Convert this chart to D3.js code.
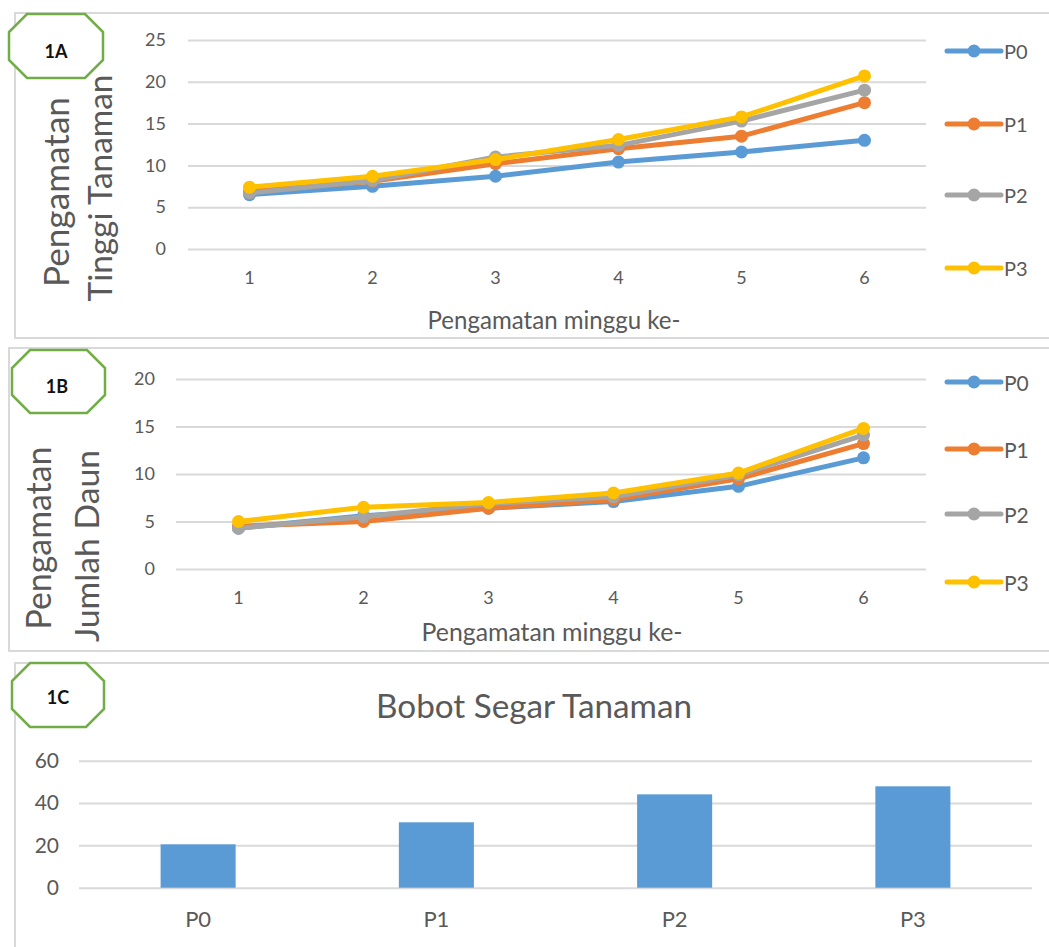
<!DOCTYPE html>
<html>
<head>
<meta charset="utf-8">
<script src="https://cdn.jsdelivr.net/npm/d3@7/dist/d3.min.js"></script>
<style>
  html, body { margin: 0; padding: 0; background: #fff; }
  svg { display: block; font-family: Lato, "Open Sans", sans-serif; }
</style>
</head>
<body>
<svg id="chart" width="1049" height="947"></svg>
<script>
// ---------------- DATA ----------------
const weeks = ["1", "2", "3", "4", "5", "6"];
const seriesNames = ["P0", "P1", "P2", "P3"];
const seriesColors = ["#5b9bd5", "#ed7d31", "#a5a5a5", "#ffc000"];

// 1A: Pengamatan Tinggi Tanaman
const tinggiP0 = [6.5, 7.5, 8.7, 10.4, 11.6, 13.0];
const tinggiP1 = [6.9, 8.1, 10.2, 12.0, 13.5, 17.5];
const tinggiP2 = [6.7, 8.2, 11.0, 12.4, 15.3, 19.0];
const tinggiP3 = [7.4, 8.7, 10.7, 13.1, 15.8, 20.7];
const tinggiTicks = [0, 5, 10, 15, 20, 25];

// 1B: Pengamatan Jumlah Daun
const daunP0 = [4.3, 5.6, 6.4, 7.1, 8.7, 11.7];
const daunP1 = [4.5, 5.0, 6.4, 7.3, 9.5, 13.2];
const daunP2 = [4.3, 5.5, 6.9, 7.6, 9.9, 14.1];
const daunP3 = [5.0, 6.5, 7.0, 8.0, 10.1, 14.8];
const daunTicks = [0, 5, 10, 15, 20];

// 1C: Bobot Segar Tanaman
const bobotCategories = ["P0", "P1", "P2", "P3"];
const bobotValues = [20.5, 30.9, 44.1, 47.9];
const bobotTicks = [0, 20, 40, 60];

// ---------------- DRAWING ----------------
const svg = d3.select("#chart");
const TEXT = "#595959";
const GRID = "#d9d9d9";

function fitWidth(sel, target) {
  const n = sel.node();
  const fs = parseFloat(sel.attr("font-size"));
  const w = n.getComputedTextLength();
  if (w > 0) sel.attr("font-size", (fs * target / w).toFixed(2));
  return sel;
}

function panelFrame(x, y, w, h) {
  svg.append("rect").attr("x", x).attr("y", y).attr("width", w).attr("height", h)
    .attr("fill", "#fff").attr("stroke", GRID).attr("stroke-width", 2);
}

function badge(x0, y0, x1, y1, cx, cy, label) {
  const c = 18;
  const pts = [[x0 + c, y0], [x1 - c, y0], [x1, y0 + c], [x1, y1 - c],
               [x1 - c, y1], [x0 + c, y1], [x0, y1 - c], [x0, y0 + c]];
  svg.append("polygon").attr("points", pts.map(p => p.join(",")).join(" "))
    .attr("fill", "#fff").attr("stroke", "#70ad47").attr("stroke-width", 2.5);
  svg.append("text").attr("x", cx).attr("y", cy).attr("text-anchor", "middle")
    .attr("dominant-baseline", "central").attr("font-size", 18).attr("font-weight", "bold")
    .attr("fill", "#111").text(label);
}

function linePanel(cfg) {
  const g = svg.append("g");
  const x = d3.scaleBand().domain(weeks).range([cfg.x0, cfg.x1]).padding(0);
  const y = d3.scaleLinear().domain([0, cfg.ymax]).range([cfg.yb, cfg.yt]);

  // gridlines
  const yAxis = d3.axisLeft(y).tickValues(cfg.ticks).tickSize(-(cfg.x1 - cfg.x0)).tickPadding(cfg.tickPad);
  const ya = g.append("g").attr("transform", `translate(${cfg.x0},0)`).call(yAxis);
  ya.select(".domain").remove();
  ya.selectAll(".tick line").attr("stroke", GRID).attr("stroke-width", 2);
  ya.selectAll(".tick text").attr("fill", TEXT).attr("font-size", cfg.tickFs).attr("font-family", "Lato, sans-serif");

  const xAxis = d3.axisBottom(x).tickSize(0).tickPadding(cfg.xTickPad);
  const xa = g.append("g").attr("transform", `translate(0,${cfg.yb})`).call(xAxis);
  xa.select(".domain").remove();
  xa.selectAll(".tick text").attr("fill", TEXT).attr("font-size", cfg.tickFs).attr("font-family", "Lato, sans-serif");

  const line = d3.line().x((d, i) => x(weeks[i]) + x.bandwidth() / 2).y(d => y(d));
  cfg.data.forEach((vals, si) => {
    g.append("path").datum(vals).attr("d", line).attr("fill", "none")
      .attr("stroke", seriesColors[si]).attr("stroke-width", 5)
      .attr("stroke-linejoin", "round").attr("stroke-linecap", "round");
    g.selectAll(null).data(vals).enter().append("circle")
      .attr("cx", (d, i) => x(weeks[i]) + x.bandwidth() / 2)
      .attr("cy", d => y(d)).attr("r", 6.5).attr("fill", seriesColors[si]);
  });

  // x axis title
  const xt = g.append("text").attr("x", cfg.xTitleX).attr("y", cfg.xTitleY)
    .attr("text-anchor", "middle").attr("font-size", 20).attr("fill", TEXT)
    .text("Pengamatan minggu ke-");
  fitWidth(xt, cfg.xTitleW);

  // y axis title lines (rotated)
  cfg.yTitles.forEach(t => {
    const tt = g.append("text").attr("transform", `translate(${t.x},${t.y}) rotate(-90)`)
      .attr("text-anchor", "middle").attr("dominant-baseline", "central")
      .attr("font-size", 26).attr("fill", TEXT).text(t.text);
    fitWidth(tt, t.len);
  });

  // legend
  const leg = g.append("g");
  seriesNames.forEach((s, i) => {
    const ly = cfg.legendY[i];
    leg.append("line").attr("x1", 947).attr("x2", 1001).attr("y1", ly).attr("y2", ly)
      .attr("stroke", seriesColors[i]).attr("stroke-width", 5).attr("stroke-linecap", "round");
    leg.append("circle").attr("cx", 974).attr("cy", ly).attr("r", 6.5).attr("fill", seriesColors[i]);
    leg.append("text").attr("x", 1004).attr("y", ly).attr("dominant-baseline", "central")
      .attr("font-size", cfg.legendFs).attr("fill", TEXT).text(s);
  });
}

// ---- Panel frames ----
panelFrame(15, 13, 1040, 325);
panelFrame(9, 348, 1046, 303);
panelFrame(15, 663, 1040, 300);

// ---- 1A ----
linePanel({
  x0: 188, x1: 926, yb: 249, yt: 40, ymax: 25, ticks: tinggiTicks,
  tickFs: 18, tickPad: 22, xTickPad: 22,
  data: [tinggiP0, tinggiP1, tinggiP2, tinggiP3],
  xTitleX: 554, xTitleY: 329, xTitleW: 253,
  yTitles: [{ text: "Pengamatan", x: 55, y: 192, len: 190 },
            { text: "Tinggi Tanaman", x: 99, y: 188, len: 227 }],
  legendY: [51, 124, 195, 268], legendFs: 20
});

// ---- 1B ----
linePanel({
  x0: 176, x1: 926, yb: 569, yt: 379, ymax: 20, ticks: daunTicks,
  tickFs: 18, tickPad: 21, xTickPad: 22,
  data: [daunP0, daunP1, daunP2, daunP3],
  xTitleX: 552, xTitleY: 641, xTitleW: 261,
  yTitles: [{ text: "Pengamatan", x: 38, y: 538, len: 183 },
            { text: "Jumlah Daun", x: 86, y: 546, len: 192 }],
  legendY: [382, 449, 514, 582], legendFs: 21
});

// ---- 1C ----
(function () {
  const g = svg.append("g");
  const x = d3.scaleBand().domain(bobotCategories).range([79, 1032])
    .paddingInner(0.685).paddingOuter(0.3425);
  const y = d3.scaleLinear().domain([0, 60]).range([887.7, 760.7]);

  const ya = g.append("g").attr("transform", "translate(79,0)")
    .call(d3.axisLeft(y).tickValues(bobotTicks).tickSize(-(1032 - 79)).tickPadding(20));
  ya.select(".domain").remove();
  ya.selectAll(".tick line").attr("stroke", GRID).attr("stroke-width", 2);
  ya.selectAll(".tick text").attr("fill", TEXT).attr("font-size", 21).attr("font-family", "Lato, sans-serif");

  g.selectAll("rect.bar").data(bobotValues).enter().append("rect")
    .attr("class", "bar")
    .attr("x", (d, i) => x(bobotCategories[i]))
    .attr("width", x.bandwidth())
    .attr("y", d => y(d))
    .attr("height", d => y(0) - y(d))
    .attr("fill", "#5b9bd5");

  const xa = g.append("g").attr("transform", "translate(0,887.7)")
    .call(d3.axisBottom(x).tickSize(0).tickPadding(24));
  xa.select(".domain").remove();
  xa.selectAll(".tick text").attr("fill", TEXT).attr("font-size", 22).attr("font-family", "Lato, sans-serif");

  const t = g.append("text").attr("x", 534).attr("y", 718).attr("text-anchor", "middle")
    .attr("font-size", 30).attr("fill", TEXT).text("Bobot Segar Tanaman");
  fitWidth(t, 316);
})();

// ---- badges ----
badge(9, 14, 103, 78, 56, 51, "1A");
badge(12, 350, 105, 413, 57, 386, "1B");
badge(12, 663, 104, 727, 58, 697, "1C");
</script>
</body>
</html>
